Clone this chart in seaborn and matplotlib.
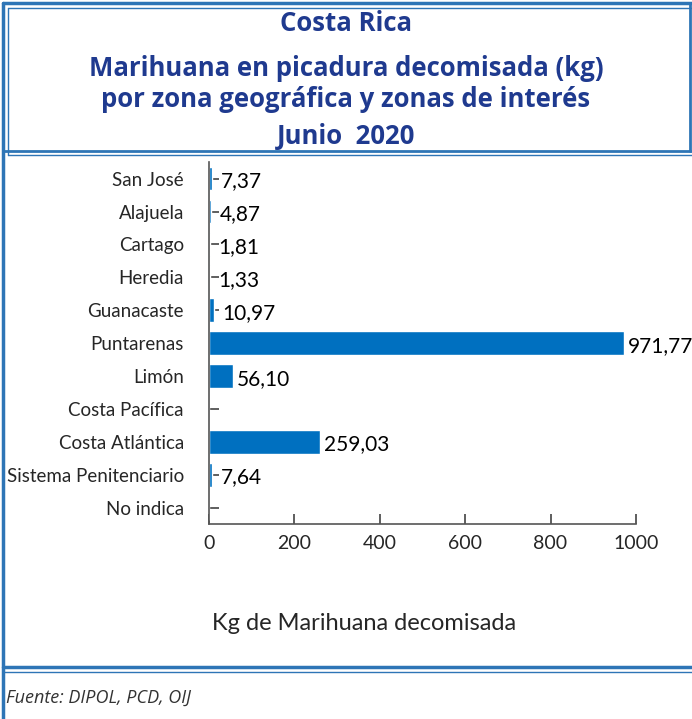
import matplotlib
matplotlib.use("Agg")
import matplotlib.pyplot as plt
import seaborn as sns
import pandas as pd
from matplotlib.lines import Line2D

# Data
zonas = ["San José", "Alajuela", "Cartago", "Heredia", "Guanacaste", "Puntarenas",
         "Limón", "Costa Pacífica", "Costa Atlántica", "Sistema Penitenciario", "No indica"]
kg = [7.37, 4.87, 1.81, 1.33, 10.97, 971.77, 56.10, 0.0, 259.03, 7.64, 0.0]
etiquetas = ["7,37", "4,87", "1,81", "1,33", "10,97", "971,77", "56,10", "", "259,03", "7,64", ""]
x_ticks = [0, 200, 400, 600, 800, 1000]

df = pd.DataFrame({"zona": zonas, "kg": kg})

sns.set_style("white")
plt.rcParams['font.family'] = ['Lato', 'DejaVu Sans']

bar_color = "#0070C0"
title_color = "#1F3A8F"
frame_color = "#2E75B6"

fig = plt.figure(figsize=(6.92, 7.19), dpi=100)
ax = fig.add_axes([0.302, 0.271, 0.617, 0.5035])

sns.barplot(data=df, y="zona", x="kg", orient="h", color=bar_color, width=0.72,
            saturation=1, ax=ax)

# value labels just past the end of each bar
for i, (v, lab) in enumerate(zip(kg, etiquetas)):
    if lab:
        off = 6 if v < 20 else 3
        ax.annotate(lab, (v, i + 0.08), xytext=(off, 0), textcoords="offset points",
                    va="center", ha="left", fontsize=15, color="black")

ax.set_xlim(0, 1000)
ax.set_ylim(10.5, -0.5)
ax.set_xticks(x_ticks)
ax.set_xticklabels([str(t) for t in x_ticks], fontsize=14)
ax.tick_params(axis="y", labelsize=13.5, direction="in", length=7, width=1.1,
               color="#333333", pad=18, left=True)
ax.tick_params(axis="x", direction="in", length=7, width=1.1, color="#333333", pad=8,
               bottom=True)
ax.set_ylabel("")
ax.set_xlabel("Kg de Marihuana decomisada", fontsize=17)
ax.xaxis.set_label_coords(0.363, -0.245)
for s in ["top", "right"]:
    ax.spines[s].set_visible(False)
for s in ["left", "bottom"]:
    ax.spines[s].set_color("#555555")
    ax.spines[s].set_linewidth(1.2)

# Title block
title_lines = ["Costa Rica", "Marihuana en picadura decomisada (kg)",
               "por zona geográfica y zonas de interés", "Junio  2020"]
title_y = [0.967, 0.905, 0.862, 0.810]
for t, y in zip(title_lines, title_y):
    fig.text(0.5, y, t, ha="center", va="center", fontsize=18.5, fontweight="bold",
             color=title_color, family=["Open Sans", "DejaVu Sans"])

# Frame lines
def hline(y, lw=2.0, x0=0.004, x1=1.0):
    fig.add_artist(Line2D([x0, x1], [y, y], color=frame_color, lw=lw, transform=fig.transFigure))

def vline(x, y0, y1, lw=2.0):
    fig.add_artist(Line2D([x, x], [y0, y1], color=frame_color, lw=lw, transform=fig.transFigure))

hline(0.996, 2.5)
hline(0.989, 1.0, x0=0.012)
hline(0.790, 2.0)
hline(0.784, 1.0, x0=0.012)
hline(0.072, 2.5)
hline(0.066, 1.0)
vline(0.004, 0.0, 0.996, 2.5)
vline(0.012, 0.784, 0.989, 1.0)
vline(0.997, 0.790, 0.996, 2.0)

fig.text(0.008, 0.030, "Fuente: DIPOL, PCD, OIJ", ha="left", va="center", fontsize=13,
         style="italic", color="#333333", family=["Open Sans", "DejaVu Sans"])

fig.savefig("out.png", dpi=100)
